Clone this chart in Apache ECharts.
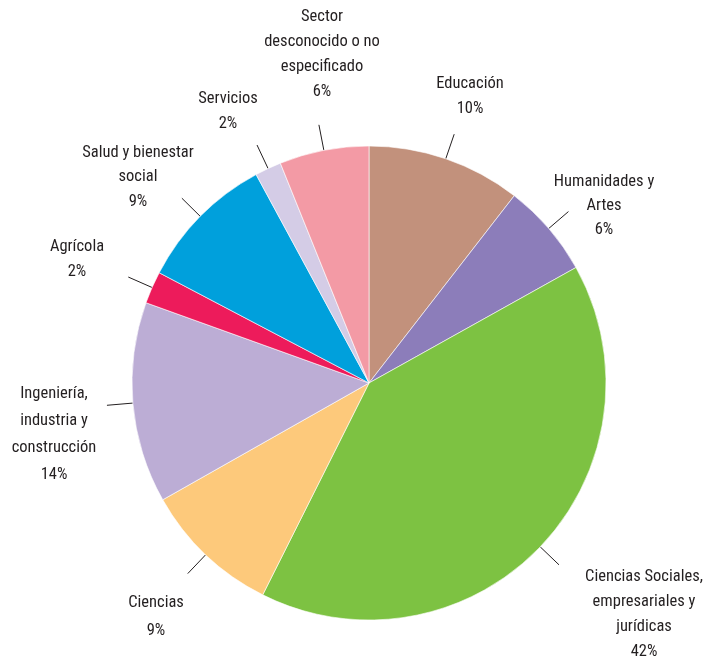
<!DOCTYPE html>
<html>
<head>
<meta charset="utf-8">
<script src="https://cdn.jsdelivr.net/npm/echarts@6/dist/echarts.min.js"></script>
<style>
  html, body { margin: 0; padding: 0; background: #fff; }
  #chart { width: 703px; height: 657px; }
</style>
</head>
<body>
<div id="chart"></div>
<script>
/* ===== 数据 ===== */
const SECTORES = [
    "Educación",
    "Humanidades y\nArtes",
    "Ciencias Sociales,\nempresariales y\njurídicas",
    "Ciencias",
    "Ingeniería,\nindustria y\nconstrucción",
    "Agrícola",
    "Salud y bienestar\nsocial",
    "Servicios",
    "Sector\ndesconocido o no\nespecificado",
];
// 扇区大小（从图中角度读取）
const VALORES = [10.5, 6.4, 40.5, 9.4, 13.7, 2.2, 9.4, 1.8, 6.1];
// 标签上显示的百分比
const PORCENTAJES = ["10%", "6%", "42%", "9%", "14%", "2%", "9%", "2%", "6%"];

const COLORES = [
    "#C2917C", "#8C7DBA", "#7DC242", "#FDC97B", "#BCADD5",
    "#ED1B5B", "#00A0DC", "#D4CCE6", "#F39AA5",
];

// 标签中心位置 (px) 和行高
const LABEL_POS = [
    [470, 96], [604, 206], [644, 614], [156, 617], [54, 434],
    [77, 259], [138, 177], [228, 111], [322, 54],
];
const LINE_H = [25, 24, 25, 28, 27, 25, 24.5, 25, 25];

const FONT = "'Roboto Condensed', Roboto, sans-serif";

const chart = echarts.init(document.getElementById("chart"));

const data = SECTORES.map((name, i) => ({
    name,
    value: VALORES[i],
    itemStyle: { color: COLORES[i] },
}));

chart.setOption({
    animation: false,
    series: [
        {
            // 扇区 + 引线
            type: "pie",
            center: [369, 383],
            radius: 237,
            startAngle: 90,
            clockwise: true,
            avoidLabelOverlap: false,
            itemStyle: { borderColor: "#fff", borderWidth: 0.6 },
            label: { show: true, position: "outside", formatter: " ", fontSize: 1 },
            labelLine: {
                show: true,
                length: 26,
                length2: 0,
                smooth: false,
                lineStyle: { color: "#231F20", width: 1 },
            },
            emphasis: { disabled: true },
            data,
        },
        {
            // 文字标签
            type: "pie",
            center: [369, 383],
            radius: 237,
            startAngle: 90,
            clockwise: true,
            silent: true,
            avoidLabelOverlap: false,
            itemStyle: { color: "transparent" },
            label: {
                show: true,
                position: "outside",
                formatter: p => p.name + "\n" + PORCENTAJES[p.dataIndex],
                fontFamily: FONT,
                fontSize: 16.5,
                lineHeight: 25,
                color: "#231F20",
                align: "center",
            },
            labelLine: { show: false },
            labelLayout: p => ({
                x: LABEL_POS[p.dataIndex][0],
                y: LABEL_POS[p.dataIndex][1],
                align: "center",
                verticalAlign: "middle",
            }),
            emphasis: { disabled: true },
            data: SECTORES.map((name, i) => ({
                name,
                value: VALORES[i],
                label: { lineHeight: LINE_H[i] },
            })),
        },
    ],
});
</script>
</body>
</html>
